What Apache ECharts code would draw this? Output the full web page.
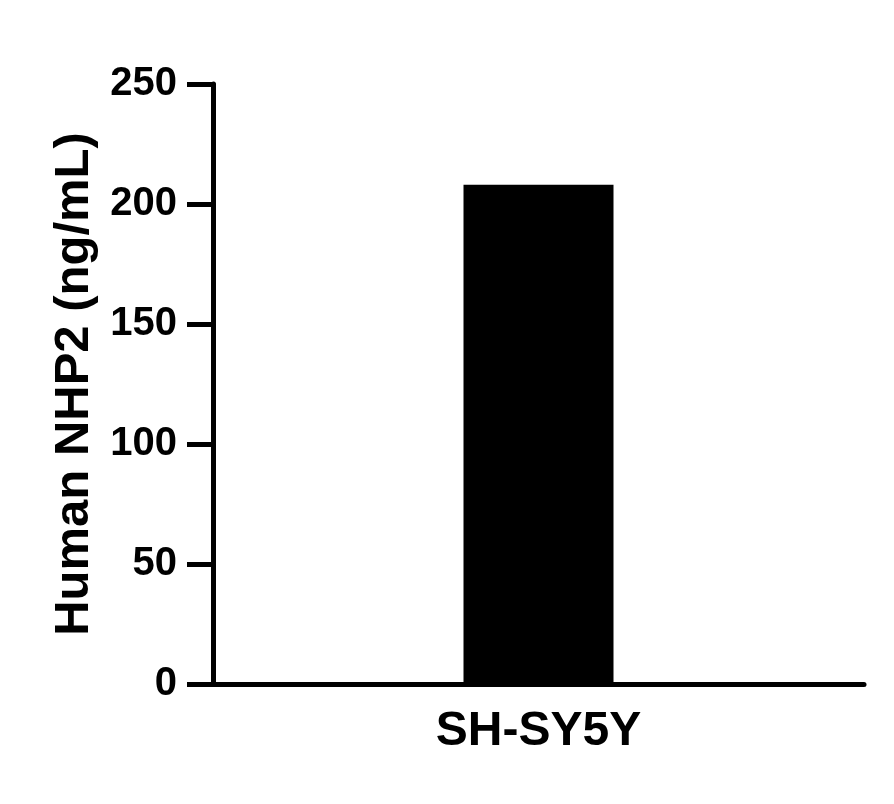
<!DOCTYPE html>
<html>

<head>
    <meta http-equiv="Content-Type" content="text/html; charset=utf-8" />
    <title></title>
    <script src="https://cdn.jsdelivr.net/npm/echarts@6/dist/echarts.min.js"></script>
    <style>
        html, body { margin: 0; padding: 0; background: #fff; }
    </style>
</head>

<body>
    <div id="main" style="width: 894px;height:804px;"></div>
</body>
<script type="text/javascript">
    // data
    var categories = ['SH-SY5Y'];
    var values = [208];
    var yTitle = 'Human NHP2 (ng/mL)';

    var font = '"Liberation Sans", Arial, sans-serif';
    var myChart = echarts.init(document.getElementById('main'));

    option = {
        animation: false,
        backgroundColor: '#fff',
        grid: {
            left: 213,
            right: 30,
            top: 84,
            bottom: 120
        },
        xAxis: {
            type: 'category',
            data: categories,
            axisLine: { lineStyle: { color: '#000', width: 5 } },
            axisTick: { show: false },
            axisLabel: {
                color: '#000',
                fontFamily: font,
                fontWeight: 'bold',
                fontSize: 48,
                margin: 24
            }
        },
        yAxis: {
            type: 'value',
            min: 0,
            max: 250,
            interval: 50,
            name: yTitle,
            nameLocation: 'middle',
            nameGap: 113,
            nameTextStyle: {
                color: '#000',
                fontFamily: font,
                fontWeight: 'bold',
                fontSize: 49
            },
            splitLine: { show: false },
            axisLine: { show: true, lineStyle: { color: '#000', width: 5 } },
            axisTick: { show: true, length: 26, lineStyle: { color: '#000', width: 5 } },
            axisLabel: {
                color: '#000',
                fontFamily: font,
                fontWeight: 'bold',
                fontSize: 40,
                margin: 36
            }
        },
        series: [
            {
                type: 'bar',
                data: values,
                barWidth: 150,
                itemStyle: { color: '#000' }
            }
        ]
    };

    myChart.setOption(option);
</script>

</html>
